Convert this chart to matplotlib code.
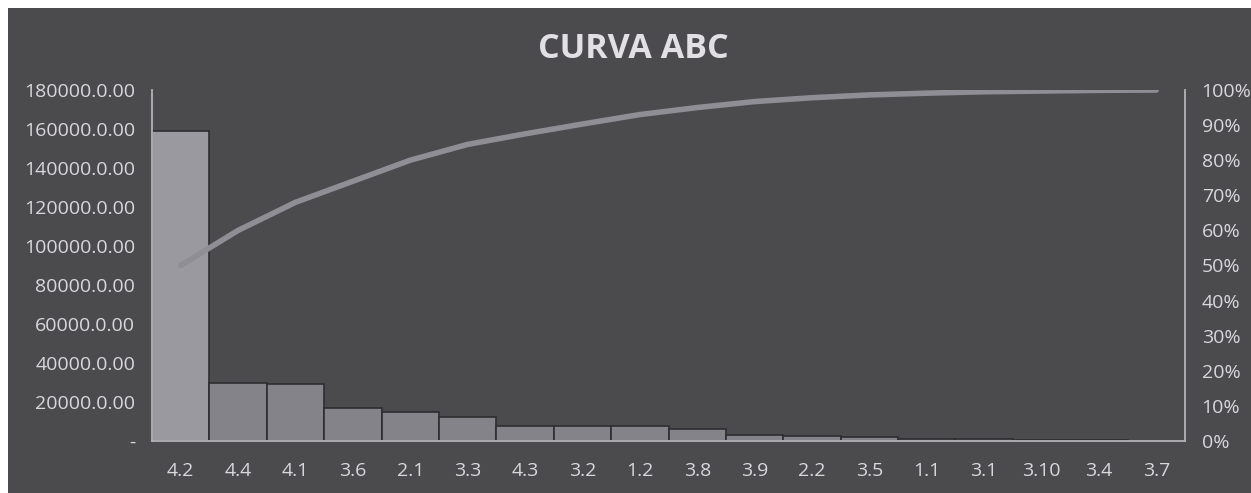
import matplotlib
matplotlib.use("Agg")
import matplotlib.pyplot as plt
from matplotlib.patches import Rectangle
from matplotlib.ticker import FuncFormatter

categories = ["4.2", "4.4", "4.1", "3.6", "2.1", "3.3", "4.3", "3.2", "1.2",
              "3.8", "3.9", "2.2", "3.5", "1.1", "3.1", "3.10", "3.4", "3.7"]
values = [159000, 30000, 29200, 16800, 14700, 12500, 7900, 7800, 7700,
          6000, 3100, 2600, 2000, 1200, 800, 500, 300, 200]
cum_pct = [50.0, 60.0, 68.0, 74.0, 80.0, 84.5, 87.5, 90.3, 93.0,
           95.0, 96.7, 97.8, 98.6, 99.1, 99.5, 99.7, 99.9, 100.0]
left_ticks = [0, 20000, 40000, 60000, 80000, 100000, 120000, 140000, 160000, 180000]
right_ticks = [0, 10, 20, 30, 40, 50, 60, 70, 80, 90, 100]

BG = "#4b4a4d"
TXT = "#d9d7db"
FONT = "Open Sans"

W, H = 1251, 493
fig = plt.figure(figsize=(W / 100, H / 100), dpi=100)
fig.patch.set_facecolor("white")
fig.patches.append(Rectangle((8 / W, 0), 1 - 8 / W, 1 - 8 / H, transform=fig.transFigure,
                             facecolor=BG, edgecolor="none", zorder=-10))

ax = fig.add_axes([152 / W, 1 - 441 / H, (1185 - 152) / W, (441 - 90) / H])
ax.set_facecolor("none")
x = list(range(len(categories)))
bar_colors = ["#9b99a0"] + ["#85838a"] * (len(categories) - 1)
ax.bar(x, values, width=1.0, color=bar_colors, edgecolor="#2e2d30", linewidth=1.2, zorder=2)
ax.set_xlim(-0.5, len(categories) - 0.5)
ax.set_ylim(0, 180000)
ax.set_yticks(left_ticks)
ax.yaxis.set_major_formatter(FuncFormatter(lambda v, p: "-" if v == 0 else f"{int(v)}.0.00"))
ax.set_xticks(x)
ax.set_xticklabels(categories)
ax.tick_params(axis="both", length=0, colors=TXT, labelsize=14)
ax.tick_params(axis="y", pad=12)
ax.tick_params(axis="x", pad=15)
for lab in ax.get_xticklabels() + ax.get_yticklabels():
    lab.set_fontfamily(FONT)
for s in ["top", "right"]:
    ax.spines[s].set_visible(False)
for s in ["left", "bottom"]:
    ax.spines[s].set_color("#b5b3b8")
    ax.spines[s].set_linewidth(1.3)
    ax.spines[s].set_zorder(4)

ax2 = ax.twinx()
ax2.plot(x, cum_pct, color="#908e95", linewidth=4, solid_capstyle="round", zorder=3)
ax2.set_ylim(0, 100)
ax2.set_yticks(right_ticks)
ax2.yaxis.set_major_formatter(FuncFormatter(lambda v, p: f"{int(v)}%"))
ax2.tick_params(axis="y", length=0, colors=TXT, labelsize=14, pad=12)
for lab in ax2.get_yticklabels():
    lab.set_fontfamily(FONT)
for s in ["top", "left", "bottom"]:
    ax2.spines[s].set_visible(False)
ax2.spines["right"].set_color("#b5b3b8")
ax2.spines["right"].set_linewidth(1.3)

fig.text(633 / W, 1 - 49 / H, "CURVA ABC", ha="center", va="center", color="#e2e0e4",
         fontsize=24.5, fontweight="bold", fontfamily=FONT)

fig.savefig("out.png", dpi=100, facecolor=fig.get_facecolor())
